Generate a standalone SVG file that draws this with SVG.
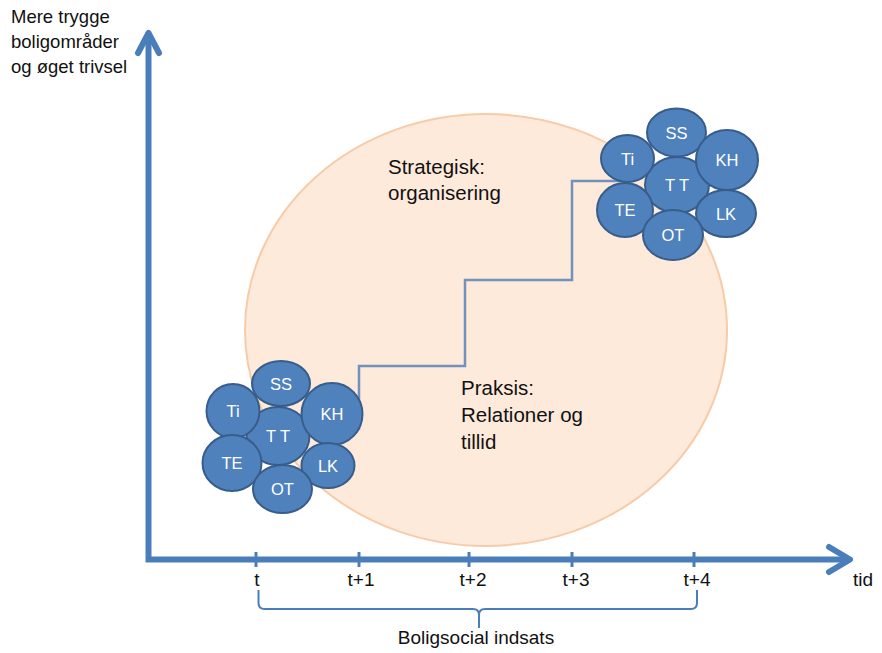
<svg xmlns="http://www.w3.org/2000/svg" width="882" height="653" viewBox="0 0 882 653">
<style>
  text { font-family: "Liberation Sans", Arial, sans-serif; fill: #111; }
  .lbl { font-size: 18.5px; }
  .big { font-size: 20.5px; }
  .nd ellipse { fill: #4f81bd; stroke: #385d8a; stroke-width: 2; }
  .nd text { fill: #ffffff; font-size: 16.5px; text-anchor: middle; dominant-baseline: central; }
  .axis { stroke: #4a7ebb; stroke-width: 6; fill: none; }
  .head { stroke: #4a7ebb; stroke-width: 6; fill: none; stroke-linecap: round; stroke-linejoin: round; }
  .tick { stroke: #4a7ebb; stroke-width: 3; }
  .brace { stroke: #4a7ebb; stroke-width: 2; fill: none; }
  .stair { stroke: #7391bd; stroke-width: 2.5; fill: none; }
  .tl { font-size: 19px; text-anchor: middle; }
</style>
<rect width="882" height="653" fill="#ffffff"/>
<g id="region">
  <ellipse cx="486" cy="330" rx="241" ry="216" fill="#fdeadb" stroke="#f8cba8" stroke-width="2"/>
  <text class="big" x="388" y="174">Strategisk:</text>
  <text class="big" x="388" y="200">organisering</text>
  <text class="big" x="461" y="395">Praksis:</text>
  <text class="big" x="461" y="422">Relationer og</text>
  <text class="big" x="461" y="449">tillid</text>
</g>
<g id="connectors">
  <polyline class="stair" points="359,430 359,366 465,366 465,280 572,280 572,181 625,181"/>
</g>
<g id="axes">
  <polyline class="axis" points="148.5,40 148.5,559.5 845,559.5" stroke-linejoin="miter"/>
  <polyline class="head" points="138,53 148.5,33 159,53"/>
  <polyline class="head" points="829,547 850,559.5 829,572"/>
  <line class="tick" x1="256" y1="552" x2="256" y2="567"/>
  <line class="tick" x1="359" y1="552" x2="359" y2="567"/>
  <line class="tick" x1="469" y1="552" x2="469" y2="567"/>
  <line class="tick" x1="572" y1="552" x2="572" y2="567"/>
  <line class="tick" x1="694" y1="552" x2="694" y2="567"/>
  <text class="tl" x="257" y="586">t</text>
  <text class="tl" x="361" y="586">t+1</text>
  <text class="tl" x="473" y="586">t+2</text>
  <text class="tl" x="576" y="586">t+3</text>
  <text class="tl" x="697" y="586">t+4</text>
  <text class="tl" x="863" y="586">tid</text>
  <path class="brace" d="M258.5,590 V603 Q258.5,609 264.5,609 H473 Q479,609 479,615 V628 V615 Q479,609 485,609 H691 Q697,609 697,603 V590"/>
  <text class="tl" x="476" y="644">Boligsocial indsats</text>
  <text class="lbl" x="11" y="23">Mere trygge</text>
  <text class="lbl" x="11" y="48">boligområder</text>
  <text class="lbl" x="11" y="73">og øget trivsel</text>
</g>
<g id="cluster-left">
  <g id="L-TT" class="nd"><ellipse cx="278" cy="436" rx="31.5" ry="29"/><text x="278" y="436">T T</text></g>
  <g id="L-SS" class="nd"><ellipse cx="281" cy="383.5" rx="29" ry="22.5"/><text x="281" y="383.5">SS</text></g>
  <g id="L-Ti" class="nd"><ellipse cx="233" cy="411" rx="26.5" ry="27"/><text x="233" y="411">Ti</text></g>
  <g id="L-KH" class="nd"><ellipse cx="332" cy="414" rx="30.5" ry="31"/><text x="332" y="414">KH</text></g>
  <g id="L-TE" class="nd"><ellipse cx="232" cy="463" rx="29.5" ry="28"/><text x="232" y="463">TE</text></g>
  <g id="L-LK" class="nd"><ellipse cx="328" cy="465.5" rx="26.5" ry="22.5"/><text x="328" y="465.5">LK</text></g>
  <g id="L-OT" class="nd"><ellipse cx="282.5" cy="489" rx="29.5" ry="24"/><text x="282.5" y="489">OT</text></g>
</g>
<g id="cluster-right">
  <g id="R-TT" class="nd"><ellipse cx="677" cy="185" rx="32" ry="28"/><text x="677" y="185">T T</text></g>
  <g id="R-SS" class="nd"><ellipse cx="676.5" cy="132.5" rx="29.5" ry="24"/><text x="676.5" y="132.5">SS</text></g>
  <g id="R-Ti" class="nd"><ellipse cx="627.5" cy="158.5" rx="26.5" ry="23.5"/><text x="627.5" y="158.5">Ti</text></g>
  <g id="R-KH" class="nd"><ellipse cx="727" cy="160" rx="31" ry="30"/><text x="727" y="160">KH</text></g>
  <g id="R-TE" class="nd"><ellipse cx="625" cy="210" rx="28" ry="27"/><text x="625" y="210">TE</text></g>
  <g id="R-LK" class="nd"><ellipse cx="726" cy="213.5" rx="30" ry="23.5"/><text x="726" y="213.5">LK</text></g>
  <g id="R-OT" class="nd"><ellipse cx="673" cy="235" rx="30" ry="25"/><text x="673" y="235">OT</text></g>
</g>
</svg>
